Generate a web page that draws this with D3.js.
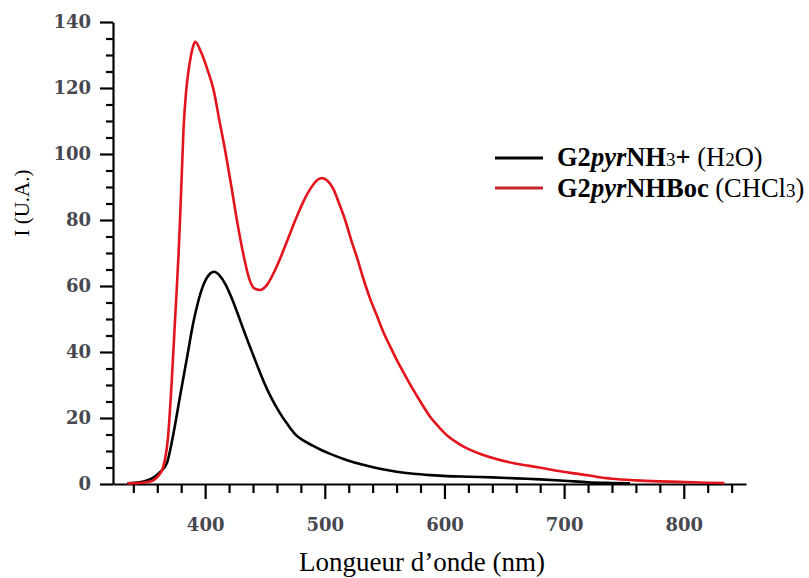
<!DOCTYPE html>
<html>
<head>
<meta charset="utf-8">
<script src="https://cdn.jsdelivr.net/npm/d3@7"></script>
<style>
  html, body { margin: 0; padding: 0; background: #fff; }
  svg { display: block; }
</style>
</head>
<body>
<svg id="chart" width="809" height="578"></svg>
<script>
// ---- Data ----
const waveBlack = [335, 345, 357, 362, 368, 373, 379, 385, 390, 394, 398, 403, 407.5, 412, 417, 422, 427, 432, 437, 443, 449, 455, 462, 469, 476, 482, 490, 497, 504, 518, 532, 546, 560, 574, 588, 602, 620, 640, 660, 680, 700, 720, 740, 755];
const intBlack  = [0.2, 0.5, 2, 3.5, 6.3, 14.3, 26.5, 38.6, 48.7, 55, 59.8, 63.3, 64.3, 63.2, 60.5, 56.5, 51.8, 46.8, 42, 36.4, 31, 26.3, 21.8, 18, 14.8, 13.2, 11.6, 10.3, 9.2, 7.3, 5.8, 4.6, 3.7, 3.1, 2.7, 2.4, 2.2, 2.0, 1.7, 1.4, 1.0, 0.5, 0.3, 0.2];

const waveRed = [335, 345, 352, 357, 361, 365, 369, 372, 375, 377.7, 379, 380.5, 382, 384, 386, 388, 390, 391.6, 397, 402, 407, 412, 417, 422, 427, 432, 437, 441, 446, 452, 458, 464, 470, 476, 482, 488, 494, 498, 502, 507, 512, 517, 522, 527, 532, 537, 543, 549, 555, 561, 567, 574, 581, 588, 595, 602, 609, 616, 623, 630, 644, 658, 671, 685, 699, 713, 727, 740, 760, 780, 800, 820, 834];
const intRed  = [0.2, 0.3, 0.6, 1.2, 2.5, 5.2, 14.3, 30.6, 50.7, 69, 80, 94, 108, 118.5, 125, 129.5, 132.7, 134, 130.5, 125.5, 119.5, 110, 100.5, 90, 79, 69.5, 62, 59.3, 58.8, 60.5, 64.5, 69.5, 75, 80.5, 85.5, 89.5, 92.2, 92.7, 92, 89.5, 85, 80, 74, 68.5, 62.5, 57, 51.5, 46, 41.4, 37, 33, 28.5, 24.3, 20.4, 17.4, 14.8, 12.9, 11.3, 10.1, 9.1, 7.5, 6.3, 5.5, 4.6, 3.7, 3.0, 2.2, 1.6, 1.1, 0.8, 0.6, 0.4, 0.3];

const xMajorTicks = [400, 500, 600, 700, 800];
const xMinorTicks = [340, 360, 380, 420, 440, 460, 480, 520, 540, 560, 580, 620, 640, 660, 680, 720, 740, 760, 780, 820, 840];
const yMajorTicks = [0, 20, 40, 60, 80, 100, 120, 140];
const yMinorTicks = [5, 10, 15, 25, 30, 35, 45, 50, 55, 65, 70, 75, 85, 90, 95, 105, 110, 115, 125, 130, 135];

const xTitle = "Longueur d\u2019onde (nm)";
const yTitle = "I (U.A.)";

// ---- Layout ----
const svg = d3.select("#chart");
const x = d3.scaleLinear().domain([323, 852]).range([113, 746]);
const y = d3.scaleLinear().domain([0, 140]).range([484, 22]);

const tickFont = "'DejaVu Serif', serif";
const tickColor = "#474750";

// Y axis
const yAxisG = svg.append("g").attr("transform", "translate(113,0)");
yAxisG.call(d3.axisLeft(y).tickValues(yMajorTicks).tickSize(13).tickSizeOuter(0).tickPadding(9));
yAxisG.append("g").call(d3.axisLeft(y).tickValues(yMinorTicks).tickSize(7).tickFormat("")).select(".domain").remove();
yAxisG.selectAll(".domain").attr("stroke", "#000").attr("stroke-width", 2.2);
yAxisG.selectAll(".tick line").attr("stroke", "#000").attr("stroke-width", 2.2);
yAxisG.selectAll(".tick text").attr("font-family", tickFont).attr("font-weight", "bold")
  .attr("font-size", 18).attr("fill", tickColor);

// X axis
const xAxisG = svg.append("g").attr("transform", "translate(0,484)");
xAxisG.call(d3.axisBottom(x).tickValues(xMajorTicks).tickSize(15).tickSizeOuter(0).tickPadding(19));
xAxisG.append("g").call(d3.axisBottom(x).tickValues(xMinorTicks).tickSize(9).tickFormat("")).select(".domain").remove();
xAxisG.selectAll(".domain").attr("stroke", "#000").attr("stroke-width", 2.2);
xAxisG.selectAll(".tick line").attr("stroke", "#000").attr("stroke-width", 2.2);
xAxisG.selectAll(".tick text").attr("font-family", tickFont).attr("font-weight", "bold")
  .attr("font-size", 18).attr("fill", tickColor);

// Titles
svg.append("text").attr("x", 422).attr("y", 571).attr("text-anchor", "middle")
  .attr("font-family", "'Liberation Serif', 'Times New Roman', serif").attr("font-size", 27)
  .attr("fill", "#000").text(xTitle);
svg.append("text").attr("transform", "translate(29,203) rotate(-90)").attr("text-anchor", "middle")
  .attr("font-family", "'Liberation Serif', 'Times New Roman', serif").attr("font-size", 21)
  .attr("fill", "#000").text(yTitle);

// Lines
const line = d3.line().x(d => x(d[0])).y(d => y(d[1])).curve(d3.curveMonotoneX);
const blackData = waveBlack.map((w, i) => [w, intBlack[i]]);
const redData = waveRed.map((w, i) => [w, intRed[i]]);

svg.append("path").datum(blackData).attr("d", line)
  .attr("fill", "none").attr("stroke", "#000").attr("stroke-width", 2.6).attr("stroke-linejoin", "round");
svg.append("path").datum(redData).attr("d", line)
  .attr("fill", "none").attr("stroke", "#e3141c").attr("stroke-width", 2.6).attr("stroke-linejoin", "round");

// Legend
const legendFont = "'Liberation Serif', 'Times New Roman', serif";
const lg = svg.append("g");
lg.append("line").attr("x1", 495).attr("x2", 543).attr("y1", 158).attr("y2", 158)
  .attr("stroke", "#000").attr("stroke-width", 3);
lg.append("line").attr("x1", 495).attr("x2", 543).attr("y1", 188).attr("y2", 188)
  .attr("stroke", "#c4262b").attr("stroke-width", 3);

const t1 = lg.append("text").attr("x", 557).attr("y", 166).attr("font-family", legendFont)
  .attr("font-size", 26.5).attr("fill", "#000");
t1.append("tspan").attr("font-weight", "bold").text("G2");
t1.append("tspan").attr("font-weight", "bold").attr("font-style", "italic").text("pyr");
t1.append("tspan").attr("font-weight", "bold").text("NH");
t1.append("tspan").attr("font-size", 19).text("3");
t1.append("tspan").attr("font-weight", "bold").text("+");
t1.append("tspan").text(" (H");
t1.append("tspan").attr("font-size", 19).text("2");
t1.append("tspan").text("O)");

const t2 = lg.append("text").attr("x", 557).attr("y", 197).attr("font-family", legendFont)
  .attr("font-size", 26.5).attr("fill", "#000");
t2.append("tspan").attr("font-weight", "bold").text("G2");
t2.append("tspan").attr("font-weight", "bold").attr("font-style", "italic").text("pyr");
t2.append("tspan").attr("font-weight", "bold").text("NHBoc");
t2.append("tspan").text(" (CHCl");
t2.append("tspan").attr("font-size", 19).text("3");
t2.append("tspan").text(")");
</script>
</body>
</html>
